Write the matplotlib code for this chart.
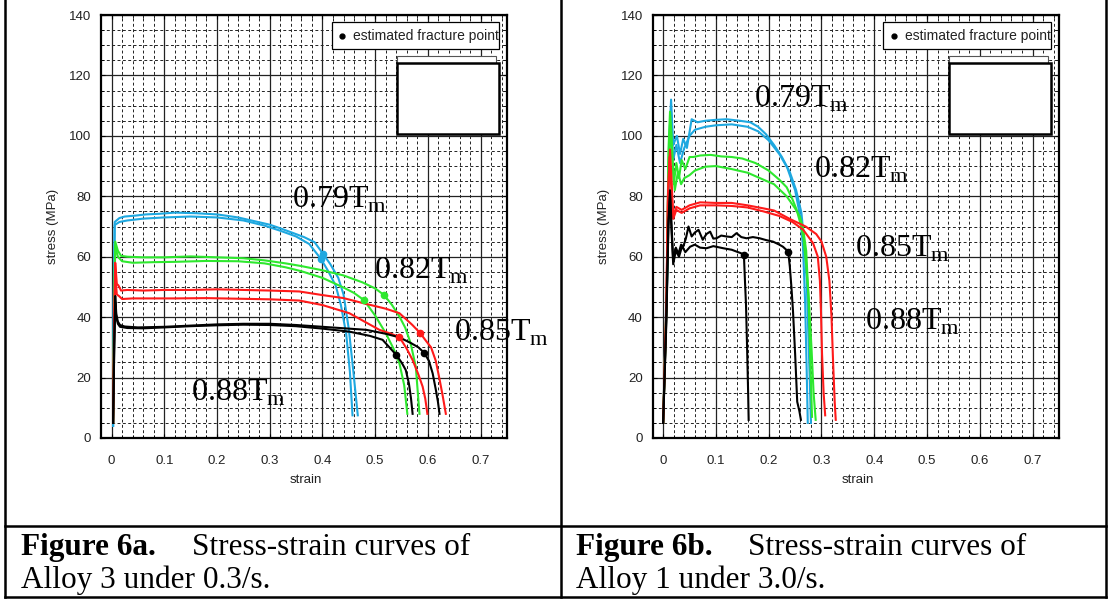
import matplotlib
matplotlib.use('Agg')
import matplotlib.pyplot as plt
from matplotlib.lines import Line2D
from matplotlib.patches import Rectangle
from matplotlib.ticker import MultipleLocator

plt.rcParams['mathtext.fontset'] = 'custom'
plt.rcParams['mathtext.rm'] = 'Liberation Serif'

# ---- Figure 6a: Alloy 3, 0.3/s (two tests per temperature) ----
a_blue_1_x = [0.003, 0.004, 0.006, 0.015, 0.025, 0.045, 0.065, 0.09, 0.12, 0.16, 0.20, 0.24, 0.27, 0.30, 0.32,
              0.345, 0.365, 0.385, 0.401, 0.415, 0.43, 0.44, 0.45, 0.458, 0.467]
a_blue_1_y = [4, 40, 71.5, 72.8, 73.3, 73.6, 74.0, 74.2, 74.6, 74.4, 74.0, 73.0, 71.8, 70.6, 69.4,
              67.8, 66.5, 64.8, 61.0, 57.5, 53.0, 47.5, 36.0, 23.0, 7.5]
a_blue_2_x = [0.003, 0.004, 0.006, 0.015, 0.03, 0.06, 0.10, 0.15, 0.20, 0.25, 0.29, 0.32, 0.35, 0.375, 0.397,
              0.41, 0.425, 0.435, 0.445, 0.452, 0.457]
a_blue_2_y = [4, 45, 70.5, 71.5, 72.0, 72.6, 73.0, 73.3, 73.0, 72.0, 70.3, 68.6, 66.7, 64.2, 59.3,
              55.5, 50.5, 44.0, 34.5, 22.0, 7.5]

a_green_1_x = [0.003, 0.005, 0.007, 0.012, 0.018, 0.03, 0.06, 0.10, 0.15, 0.20, 0.25, 0.29, 0.33, 0.36, 0.40,
               0.44, 0.476, 0.50, 0.517, 0.532, 0.546, 0.557, 0.567, 0.577, 0.584]
a_green_1_y = [5, 45, 65.0, 62.0, 60.3, 60.0, 59.8, 59.8, 60.1, 59.8, 59.5, 58.8, 57.8, 56.9, 55.5,
               53.8, 51.5, 49.5, 47.3, 44.0, 40.2, 36.5, 31.5, 23.6, 8.0]
a_green_2_x = [0.003, 0.005, 0.007, 0.012, 0.02, 0.04, 0.08, 0.12, 0.18, 0.24, 0.29, 0.33, 0.36, 0.40, 0.44,
               0.46, 0.479, 0.50, 0.52, 0.535, 0.546, 0.555, 0.561]
a_green_2_y = [5, 42, 63.5, 60.0, 58.5, 58.0, 58.2, 58.3, 58.6, 58.5, 57.8, 56.5, 55.2, 53.0, 49.8,
               48.0, 45.6, 40.5, 34.7, 29.5, 24.7, 17.5, 8.0]

a_red_1_x = [0.003, 0.005, 0.007, 0.010, 0.013, 0.018, 0.03, 0.06, 0.10, 0.15, 0.20, 0.25, 0.30, 0.356, 0.40,
             0.44, 0.48, 0.52, 0.546, 0.57, 0.585, 0.597, 0.606, 0.615, 0.622, 0.628, 0.634]
a_red_1_y = [5, 40, 58.0, 51.0, 50.5, 48.8, 49.0, 48.8, 49.0, 49.0, 49.2, 49.0, 48.8, 48.5, 47.3,
             46.3, 44.5, 42.8, 41.3, 37.5, 34.8, 32.0, 30.0, 25.5, 19.5, 14.0, 8.0]
a_red_2_x = [0.003, 0.005, 0.007, 0.010, 0.014, 0.02, 0.04, 0.08, 0.12, 0.18, 0.24, 0.30, 0.356, 0.40, 0.451,
             0.48, 0.508, 0.53, 0.546, 0.56, 0.571, 0.582, 0.59, 0.595, 0.599]
a_red_2_y = [5, 38, 54.0, 47.5, 47.0, 46.0, 46.2, 46.2, 46.2, 46.3, 46.1, 45.9, 45.5, 44.0, 41.3,
             38.5, 35.8, 34.5, 33.4, 29.5, 25.8, 21.0, 17.0, 13.0, 8.0]

a_black_1_x = [0.003, 0.005, 0.007, 0.009, 0.012, 0.016, 0.025, 0.05, 0.10, 0.15, 0.20, 0.25, 0.30, 0.35,
               0.40, 0.45, 0.483, 0.52, 0.546, 0.568, 0.582, 0.593, 0.602, 0.609, 0.615, 0.619, 0.622]
a_black_1_y = [5, 30, 47.0, 41.0, 38.5, 37.4, 36.9, 36.6, 36.8, 37.2, 37.6, 37.8, 37.8, 37.4,
               36.8, 36.2, 35.8, 34.5, 33.3, 31.4, 30.0, 28.2, 25.5, 21.4, 16.0, 12.0, 8.0]
a_black_2_x = [0.003, 0.005, 0.007, 0.009, 0.012, 0.016, 0.03, 0.06, 0.10, 0.15, 0.20, 0.25, 0.30, 0.35,
               0.40, 0.451, 0.49, 0.514, 0.54, 0.55, 0.558, 0.564, 0.568, 0.571]
a_black_2_y = [5, 28, 45.0, 40.0, 37.8, 36.8, 36.4, 36.3, 36.6, 37.0, 37.3, 37.5, 37.4, 37.0,
               36.2, 35.2, 33.8, 32.5, 27.5, 25.0, 22.5, 18.0, 13.0, 8.0]

# estimated fracture points (strain, stress, colour)
a_fracture_x = [0.401, 0.397, 0.517, 0.479, 0.585, 0.546, 0.593, 0.540]
a_fracture_y = [61.0, 59.3, 47.3, 45.6, 34.8, 33.4, 28.2, 27.5]
a_fracture_c = ['blue', 'blue', 'green', 'green', 'red', 'red', 'black', 'black']

# temperature labels
a_label_text = ['0.79', '0.82', '0.85', '0.88']
a_label_x = [0.343, 0.497, 0.650, 0.151]
a_label_y = [76.1, 52.6, 32.4, 12.3]

# ---- Figure 6b: Alloy 1, 3.0/s ----
b_blue_1_x = [0.0, 0.008, 0.012, 0.015, 0.019, 0.026, 0.032, 0.038, 0.045, 0.054, 0.065, 0.08, 0.10, 0.12,
              0.145, 0.165, 0.18, 0.195, 0.21, 0.225, 0.24, 0.252, 0.262, 0.268, 0.272, 0.275, 0.278, 0.280]
b_blue_1_y = [5, 60, 100, 112, 97, 100, 94, 99, 96, 105.5, 104.5, 105, 105.3, 105.5,
              105, 104.5, 103, 100.5, 97, 93, 88, 82, 74.5, 63.5, 52, 35, 18, 5]
b_blue_2_x = [0.0, 0.008, 0.012, 0.015, 0.019, 0.025, 0.032, 0.04, 0.05, 0.06, 0.08, 0.10, 0.13, 0.16,
              0.18, 0.20, 0.22, 0.235, 0.25, 0.26, 0.265, 0.269, 0.272, 0.274]
b_blue_2_y = [5, 55, 98, 108, 92, 97, 91, 96, 100, 102, 103, 103.5, 103.8, 103,
              101.5, 98.5, 94, 89.5, 82, 73, 63, 45, 22, 5]

b_green_1_x = [0.0, 0.007, 0.010, 0.013, 0.016, 0.020, 0.025, 0.030, 0.035, 0.042, 0.05, 0.057, 0.07, 0.09,
               0.11, 0.13, 0.15, 0.175, 0.20, 0.22, 0.234, 0.245, 0.253, 0.26, 0.266, 0.271, 0.276, 0.281,
               0.285, 0.289]
b_green_1_y = [5, 50, 95, 108, 100, 84, 91, 86, 92, 89, 93, 93, 93.5, 93.7,
               93.2, 93, 92.5, 91, 88.5, 85.5, 83, 79, 75.5, 71, 66, 57, 46, 30,
               15, 6]
b_green_2_x = [0.0, 0.007, 0.010, 0.013, 0.016, 0.022, 0.028, 0.034, 0.04, 0.05, 0.06, 0.08, 0.10, 0.13,
               0.16, 0.19, 0.21, 0.234, 0.25, 0.259, 0.265, 0.271, 0.275, 0.279, 0.282]
b_green_2_y = [5, 48, 90, 104, 95, 82, 88, 84, 86, 87, 88.5, 89.8, 90, 89,
               87.8, 85.5, 84, 80, 76, 73.3, 69.5, 62, 48, 25, 7]

b_red_1_x = [0.0, 0.006, 0.009, 0.013, 0.016, 0.019, 0.025, 0.035, 0.05, 0.07, 0.10, 0.13, 0.16, 0.19,
             0.21, 0.24, 0.27, 0.29, 0.30, 0.309, 0.315, 0.319, 0.322, 0.325, 0.327]
b_red_1_y = [5, 45, 80, 95.5, 85, 73.5, 76.5, 75.5, 77, 78, 77.8, 77.8, 77, 76,
             75.3, 72.5, 70, 67.5, 65, 60, 52, 40, 25, 12, 6]
b_red_2_x = [0.0, 0.006, 0.009, 0.012, 0.015, 0.019, 0.025, 0.035, 0.05, 0.07, 0.10, 0.13, 0.16, 0.19,
             0.22, 0.245, 0.265, 0.284, 0.293, 0.297, 0.299, 0.301, 0.304, 0.307]
b_red_2_y = [5, 42, 78, 93, 84, 72.5, 75.5, 74.5, 76, 77, 77, 76.8, 76.3, 75,
             73.5, 71.5, 69, 64.5, 60, 52, 42, 28, 15, 7.5]

b_black_1_x = [0.0, 0.006, 0.010, 0.013, 0.016, 0.019, 0.024, 0.029, 0.034, 0.038, 0.043, 0.048, 0.054,
               0.06, 0.067, 0.075, 0.082, 0.089, 0.095, 0.101, 0.11, 0.12, 0.13, 0.139, 0.148, 0.158,
               0.17, 0.183, 0.195, 0.208, 0.22, 0.227, 0.237, 0.24, 0.243, 0.246, 0.25, 0.254, 0.258, 0.261]
b_black_1_y = [5, 40, 72, 82, 70, 59, 63, 61, 64, 63.3, 66, 70, 66.7,
               68, 68.9, 65.6, 67.5, 68.3, 66, 66.1, 67, 66.7, 66.5, 67.8, 66.5, 66.1,
               66.5, 66.1, 65.5, 65, 64, 63.3, 61.7, 56.7, 50, 42, 28, 12, 9, 6]
b_black_2_x = [0.0, 0.006, 0.010, 0.013, 0.016, 0.019, 0.024, 0.03, 0.036, 0.042, 0.051, 0.06, 0.07,
               0.082, 0.095, 0.114, 0.13, 0.139, 0.147, 0.153, 0.155, 0.157, 0.159, 0.161, 0.162]
b_black_2_y = [5, 38, 70, 80, 68, 57.5, 62, 60, 63.5, 61.5, 63.3, 64, 63,
               62.8, 63.5, 62.8, 62.3, 61.7, 61.2, 60.6, 52, 44, 30, 15, 6]

b_fracture_x = [0.237, 0.153]
b_fracture_y = [61.7, 60.6]
b_fracture_c = ['black', 'black']

b_label_text = ['0.79', '0.82', '0.85', '0.88']
b_label_x = [0.172, 0.286, 0.363, 0.383]
b_label_y = [109.6, 86.1, 59.9, 35.8]

x_ticks = [0, 0.1, 0.2, 0.3, 0.4, 0.5, 0.6, 0.7]
x_tick_labels = ['0', '0.1', '0.2', '0.3', '0.4', '0.5', '0.6', '0.7']
y_ticks = [0, 20, 40, 60, 80, 100, 120, 140]

colors = {'blue': '#1ea8e0', 'green': '#2ee82e', 'red': '#ff1a1a', 'black': '#000000'}

W, H = 1108, 600
fig = plt.figure(figsize=(W / 100, H / 100), dpi=100)


def px(x, y):
    # pixel position (from top-left) -> figure fraction
    return x / W, 1 - y / H


def setup_axes(ax):
    ax.set_xlim(-0.02, 0.75)
    ax.set_ylim(0, 140)
    ax.set_xticks(x_ticks)
    ax.set_xticklabels(x_tick_labels)
    ax.set_yticks(y_ticks)
    ax.xaxis.set_minor_locator(MultipleLocator(0.02))
    ax.yaxis.set_minor_locator(MultipleLocator(5))
    ax.grid(which='major', color='#222222', linewidth=0.9, linestyle='-')
    ax.grid(which='minor', color='#222222', linewidth=0.7, linestyle=(0, (3, 2.5)))
    ax.set_axisbelow(True)
    ax.tick_params(which='both', direction='in', top=True, right=True, color='black')
    ax.tick_params(which='major', length=3, width=0.8)
    ax.tick_params(which='minor', length=2, width=0.6)
    ax.tick_params(axis='x', pad=12, labelsize=9.5)
    ax.tick_params(axis='y', pad=7, labelsize=9.5)
    for lbl in ax.get_xticklabels() + ax.get_yticklabels():
        lbl.set_family('Liberation Sans')
        lbl.set_color('#222222')
    for sp in ax.spines.values():
        sp.set_linewidth(1.6)
    ax.set_xlabel('strain', family='Liberation Sans', fontsize=9.5, va='center', color='#222222')
    ax.xaxis.set_label_coords(0.505, -0.099)
    ax.set_ylabel('stress (MPa)', family='Liberation Sans', fontsize=9.5, va='center', color='#222222')
    ax.yaxis.set_label_coords(-0.119, 0.5)

    # legend box with the fracture point marker
    ax.add_patch(Rectangle((0.568, 0.919), 0.412, 0.064, transform=ax.transAxes,
                           facecolor='white', edgecolor='black', linewidth=0.9, zorder=6))
    ax.plot([0.594], [0.951], 'o', color='black', markersize=3.5, transform=ax.transAxes,
            zorder=7, clip_on=False)
    ax.text(0.620, 0.951, 'estimated fracture point', transform=ax.transAxes, va='center',
            ha='left', family='Liberation Sans', fontsize=10, color='#222222', zorder=7)
    # empty legend boxes below it
    ax.add_patch(Rectangle((0.730, 0.718), 0.243, 0.186, transform=ax.transAxes,
                           facecolor='white', edgecolor='#555555', linewidth=0.8, zorder=6))
    ax.add_patch(Rectangle((0.730, 0.718), 0.251, 0.168, transform=ax.transAxes,
                           facecolor='white', edgecolor='black', linewidth=1.8, zorder=6))


def draw_curves(ax, curves, fx, fy, fc, lx, ly, ltext):
    for cx, cy, c in curves:
        ax.plot(cx, cy, color=colors[c], linewidth=1.5, zorder=3)
    for x, y, c in zip(fx, fy, fc):
        ax.plot(x, y, 'o', color=colors[c], markersize=4.5, zorder=4)
    for x, y, t in zip(lx, ly, ltext):
        ax.text(x, y, t + r'T$_\mathrm{m}$', family='Liberation Serif', fontsize=23,
                va='baseline', ha='left', zorder=5)


ax_a = fig.add_axes([101 / W, 162 / H, 406 / W, 423 / H])
setup_axes(ax_a)
draw_curves(ax_a, [(a_blue_1_x, a_blue_1_y, 'blue'), (a_blue_2_x, a_blue_2_y, 'blue'),
                   (a_green_1_x, a_green_1_y, 'green'), (a_green_2_x, a_green_2_y, 'green'),
                   (a_red_1_x, a_red_1_y, 'red'), (a_red_2_x, a_red_2_y, 'red'),
                   (a_black_1_x, a_black_1_y, 'black'), (a_black_2_x, a_black_2_y, 'black')],
            a_fracture_x, a_fracture_y, a_fracture_c, a_label_x, a_label_y, a_label_text)

ax_b = fig.add_axes([652.6 / W, 162 / H, 406.4 / W, 423 / H])
setup_axes(ax_b)
draw_curves(ax_b, [(b_blue_1_x, b_blue_1_y, 'blue'), (b_blue_2_x, b_blue_2_y, 'blue'),
                   (b_green_1_x, b_green_1_y, 'green'), (b_green_2_x, b_green_2_y, 'green'),
                   (b_red_1_x, b_red_1_y, 'red'), (b_red_2_x, b_red_2_y, 'red'),
                   (b_black_1_x, b_black_1_y, 'black'), (b_black_2_x, b_black_2_y, 'black')],
            b_fracture_x, b_fracture_y, b_fracture_c, b_label_x, b_label_y, b_label_text)

# table rules around the two figures and their captions
table_lines = [((5, 0), (5, 597)), ((561, 0), (561, 597)), ((1106, 0), (1106, 597)),
               ((5, 526), (1106, 526)), ((5, 597), (1106, 597))]
for (x0, y0), (x1, y1) in table_lines:
    p0, p1 = px(x0, y0), px(x1, y1)
    fig.add_artist(Line2D([p0[0], p1[0]], [p0[1], p1[1]], color='black', linewidth=1.8,
                          solid_capstyle='projecting'))

cap = dict(family='Liberation Serif', fontsize=22.5, va='baseline', ha='left')
fig.text(*px(21, 555), 'Figure 6a.', weight='bold', **cap)
fig.text(*px(192, 555), 'Stress-strain curves of', **cap)
fig.text(*px(21, 588), 'Alloy 3 under 0.3/s.', **cap)
fig.text(*px(576, 555), 'Figure 6b.', weight='bold', **cap)
fig.text(*px(748, 555), 'Stress-strain curves of', **cap)
fig.text(*px(576, 588), 'Alloy 1 under 3.0/s.', **cap)

fig.savefig('out.png', dpi=100)
